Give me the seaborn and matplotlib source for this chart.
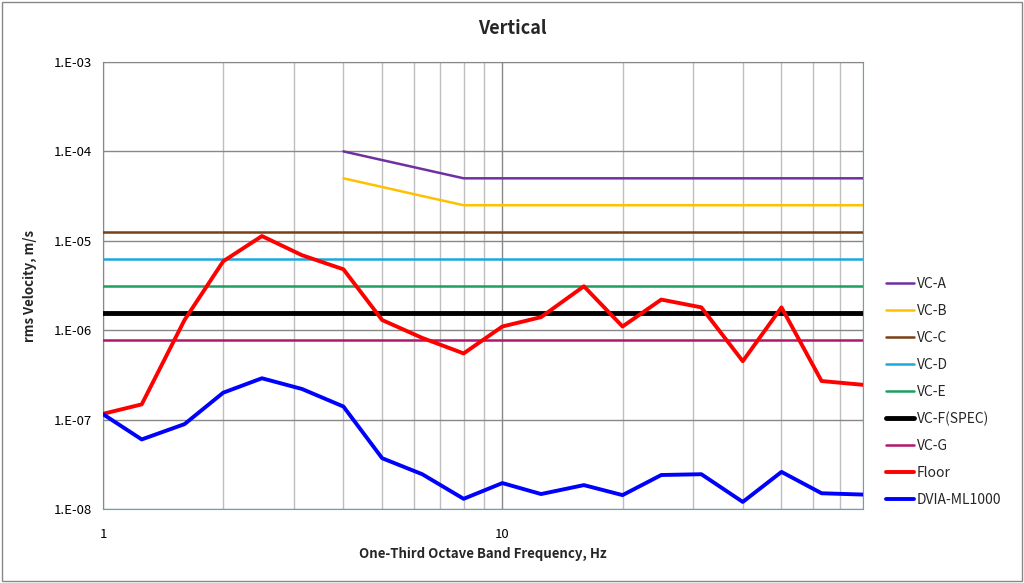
import numpy as np
import pandas as pd
import matplotlib
matplotlib.use('Agg')
import matplotlib.pyplot as plt
import matplotlib.ticker as ticker
import seaborn as sns

sns.set_style('white')
plt.rcParams['font.family'] = ['Noto Sans CJK KR', 'DejaVu Sans']

# one-third octave band centres, Hz
freq = [1, 1.25, 1.6, 2, 2.5, 3.15, 4, 5, 6.3, 8, 10, 12.5, 16, 20, 25,
        31.5, 40, 50, 63, 80]

floor = [1.16e-7, 1.48e-7, 1.3e-6, 5.9e-6, 1.13e-5, 6.9e-6, 4.8e-6, 1.3e-6,
         8.2e-7, 5.5e-7, 1.1e-6, 1.4e-6, 3.1e-6, 1.1e-6, 2.2e-6, 1.8e-6,
         4.5e-7, 1.8e-6, 2.7e-7, 2.45e-7]
dvia = [1.15e-7, 6.0e-8, 8.9e-8, 2.0e-7, 2.9e-7, 2.2e-7, 1.4e-7, 3.7e-8,
        2.45e-8, 1.3e-8, 1.95e-8, 1.47e-8, 1.85e-8, 1.43e-8, 2.4e-8, 2.45e-8,
        1.2e-8, 2.6e-8, 1.5e-8, 1.45e-8]

# VC-A / VC-B start at 4 Hz
freq_ab = freq[6:]
vc_a = [1e-4, 8e-5, 6.35e-5, 5e-5] + [5e-5] * 10
vc_b = [5e-5, 4e-5, 3.17e-5, 2.5e-5] + [2.5e-5] * 10
vc_c = 12.5e-6
vc_d = 6.25e-6
vc_e = 3.125e-6
vc_f = 1.5625e-6
vc_g = 7.8e-7

labels = ['VC-A', 'VC-B', 'VC-C', 'VC-D', 'VC-E', 'VC-F(SPEC)', 'VC-G',
          'Floor', 'DVIA-ML1000']

fig = plt.figure(figsize=(10.24, 5.83), dpi=100)
ax = fig.add_axes([103/1024, 1 - 509/583, 760/1024, 447/583])

def line(x, y, color, lw, label):
    df = pd.DataFrame({'f': x, 'v': y})
    sns.lineplot(data=df, x='f', y='v', ax=ax, color=color, lw=lw,
                 label=label, zorder=3)

line(freq_ab, vc_a, '#7030A0', 1.8, labels[0])
line(freq_ab, vc_b, '#FFC000', 1.8, labels[1])
line(freq, [vc_c] * len(freq), '#7B3F12', 1.8, labels[2])
line(freq, [vc_d] * len(freq), '#1CA8DD', 1.8, labels[3])
line(freq, [vc_e] * len(freq), '#1E9E60', 1.8, labels[4])
line(freq, [vc_f] * len(freq), '#000000', 3.5, labels[5])
line(freq, [vc_g] * len(freq), '#B0186E', 1.8, labels[6])
line(freq, floor, '#FF0000', 2.8, labels[7])
line(freq, dvia, '#0000FF', 2.8, labels[8])

ax.set_xscale('log')
ax.set_yscale('log')
ax.set_xlim(1, 80)
ax.set_ylim(1e-8, 1e-3)

ax.xaxis.set_major_locator(ticker.FixedLocator([1, 10]))
ax.xaxis.set_major_formatter(ticker.FixedFormatter(['1', '10']))
ax.xaxis.set_minor_locator(ticker.LogLocator(base=10, subs=np.arange(2, 10)))
ax.xaxis.set_minor_formatter(ticker.NullFormatter())
ax.yaxis.set_major_locator(ticker.LogLocator(base=10, numticks=10))
ax.yaxis.set_major_formatter(ticker.FuncFormatter(
    lambda v, p: '1.E-%02d' % round(-np.log10(v))))
ax.yaxis.set_minor_locator(ticker.NullLocator())

ax.grid(True, which='major', axis='both', color='#888888', lw=1)
ax.grid(True, which='minor', axis='x', color='#BEBEBE', lw=1)
ax.set_axisbelow(True)
ax.tick_params(which='both', length=0, labelsize=9.5, colors='black')
ax.tick_params(axis='x', pad=14)
ax.tick_params(axis='y', pad=8)

for s in ['left', 'top']:
    ax.spines[s].set_color('#888888')
for s in ['bottom', 'right']:
    ax.spines[s].set_color('#3DB4CC')

fig.text(0.5, 1 - 28/583, 'Vertical', fontsize=13, fontweight='bold',
         ha='center', va='center')
ax.set_xlabel('One-Third Octave Band Frequency, Hz', fontsize=9.5,
              fontweight='bold', labelpad=4)
ax.set_ylabel('rms Velocity, m/s', fontsize=9.5, fontweight='bold',
              labelpad=12)

ax.legend(loc='center left', bbox_to_anchor=(0.853, 1 - 392/583),
          bbox_transform=fig.transFigure, frameon=False, fontsize=10,
          labelspacing=0.93, handlelength=2.0, handletextpad=0.2)

fig.patches.append(plt.Rectangle((0.002, 0.003), 0.996, 0.994,
                                 transform=fig.transFigure, fill=False,
                                 edgecolor='#888888', lw=1))

fig.savefig('out.png', dpi=100)
